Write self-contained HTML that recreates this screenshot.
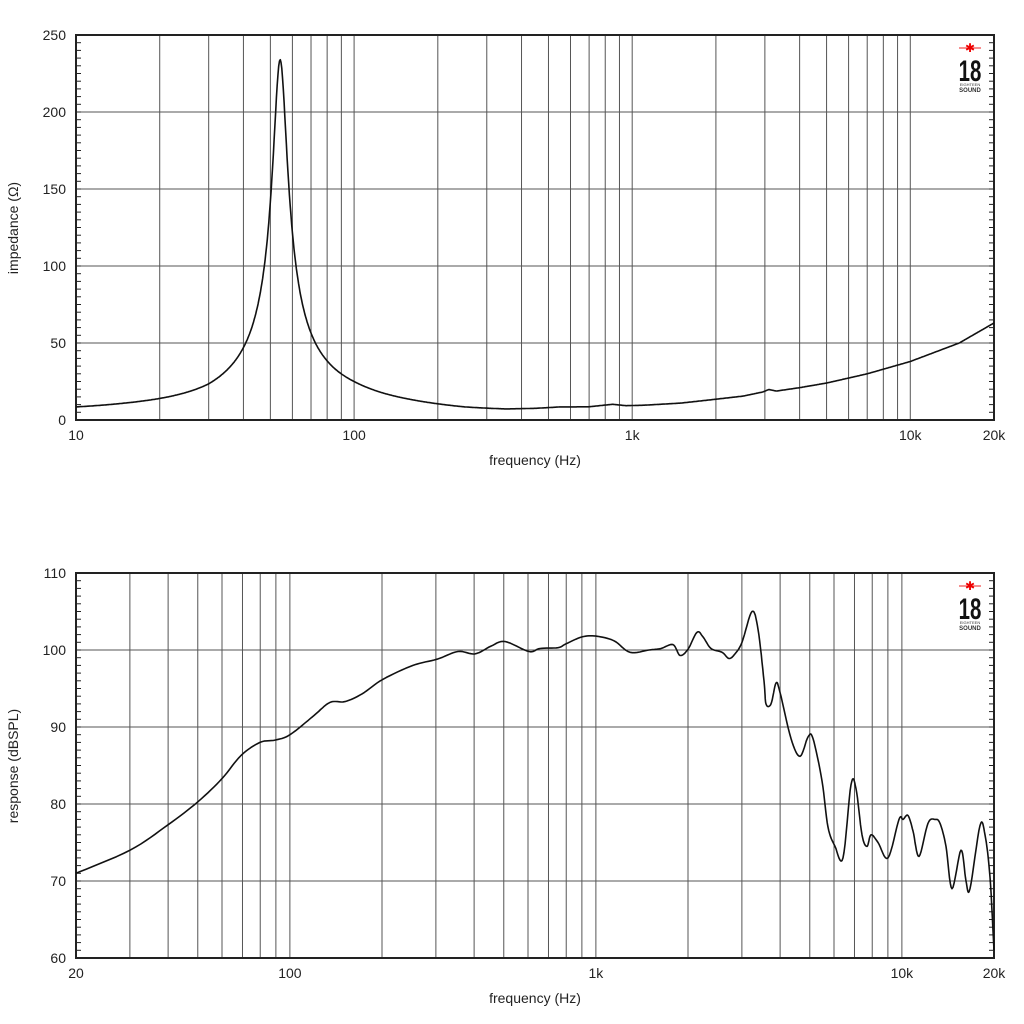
<!DOCTYPE html>
<html><head><meta charset="utf-8"><style>
html,body{margin:0;padding:0;background:#fff;}
svg{display:block;font-family:"Liberation Sans",sans-serif;}
</style></head><body>
<svg id="s" width="1024" height="1024" viewBox="0 0 1024 1024" xmlns="http://www.w3.org/2000/svg">
<rect width="1024" height="1024" fill="#fff"/>
<g id="g"></g>
<text x="535" y="465" font-size="14" text-anchor="middle" fill="#222">frequency (Hz)</text>
<text x="535" y="1003" font-size="14" text-anchor="middle" fill="#222">frequency (Hz)</text>
<text transform="translate(18,228) rotate(-90)" font-size="14" text-anchor="middle" fill="#222">impedance (Ω)</text>
<text transform="translate(18,766) rotate(-90)" font-size="14" text-anchor="middle" fill="#222">response (dBSPL)</text>
</svg>
<script>
var NS="http://www.w3.org/2000/svg",g=document.getElementById("g");
function el(t,a,txt){var e=document.createElementNS(NS,t);for(var k in a)e.setAttribute(k,a[k]);if(txt!==undefined)e.textContent=txt;g.appendChild(e);return e;}
function chart(o){
  var L=76,R=994,T=o.T,B=o.B;
  function X(f){return L+(R-L)*Math.log10(f/o.f0)/Math.log10(o.f1/o.f0);}
  function Y(v){return B-(B-T)*(v-o.y0)/(o.y1-o.y0);}
  for(var d=1;d<=10000;d*=10)for(var m=1;m<10;m++){var f=d*m;if(f<=o.f0||f>=o.f1)continue;var x=X(f);
    el("line",{x1:x,y1:T,x2:x,y2:B,stroke:"#555","stroke-width":1});}
  for(var v=o.y0+o.ys;v<o.y1;v+=o.ys){el("line",{x1:L,y1:Y(v),x2:R,y2:Y(v),stroke:"#555","stroke-width":1});}
  for(var v=o.y0;v<=o.y1;v+=o.mt){var y=Y(v);
    el("line",{x1:L,y1:y,x2:L+5,y2:y,stroke:"#222","stroke-width":1});
    el("line",{x1:R-5,y1:y,x2:R,y2:y,stroke:"#222","stroke-width":1});}
  el("rect",{x:L,y:T,width:R-L,height:B-T,fill:"none",stroke:"#222","stroke-width":2});
  for(var v=o.y0;v<=o.y1;v+=o.ys)el("text",{x:66,y:Y(v)+5,"font-size":14,"text-anchor":"end",fill:"#222"},String(v));
  o.xl.forEach(function(p){el("text",{x:X(p[0]),y:B+20,"font-size":14,"text-anchor":"middle",fill:"#222"},p[1]);});
  var lx=970,ly=T+13;
  el("line",{x1:lx-11,y1:ly,x2:lx+11,y2:ly,stroke:"#e22","stroke-width":1});
  el("text",{x:lx,y:ly+4,"font-size":12,"text-anchor":"middle",fill:"#e00"},"✱");
  el("text",{x:0,y:0,"font-size":30,"font-weight":"bold","text-anchor":"middle",fill:"#111",transform:"translate("+lx+","+(ly+33)+") scale(0.68,1)"},"18");
  el("text",{x:lx,y:ly+38,"font-size":4,"text-anchor":"middle",fill:"#333"},"EIGHTEEN");
  el("text",{x:lx,y:ly+44,"font-size":6,"font-weight":"bold","text-anchor":"middle",fill:"#333"},"SOUND");
  return {X:X,Y:Y};
}
function spline(P){var out=[];for(var i=0;i<P.length-1;i++){var p0=P[Math.max(0,i-1)],p1=P[i],p2=P[i+1],p3=P[Math.min(P.length-1,i+2)];
  for(var t=0;t<1;t+=0.125){var t2=t*t,t3=t2*t;
    var x=0.5*((2*p1[0])+(-p0[0]+p2[0])*t+(2*p0[0]-5*p1[0]+4*p2[0]-p3[0])*t2+(-p0[0]+3*p1[0]-3*p2[0]+p3[0])*t3);
    var y=0.5*((2*p1[1])+(-p0[1]+p2[1])*t+(2*p0[1]-5*p1[1]+4*p2[1]-p3[1])*t2+(-p0[1]+3*p1[1]-3*p2[1]+p3[1])*t3);
    out.push(x.toFixed(1)+","+y.toFixed(1));}}
  var l=P[P.length-1];out.push(l[0].toFixed(1)+","+l[1].toFixed(1));return out.join(" ");}
var c1=chart({T:35,B:420,f0:10,f1:20000,y0:0,y1:250,ys:50,mt:5,xl:[[10,"10"],[100,"100"],[1000,"1k"],[10000,"10k"],[20000,"20k"]]});
function Lz(f){var x=f/54.2-54.2/f;return 230/Math.sqrt(1+67.8*x*x);}
var ref=[[10,8.5],[15,11],[20,14],[25,18],[30,23.5],[54.2,234],[100,25],[130,17],[200,10.5],[250,8.5],[350,7.2],[450,7.6],[550,8.5],[700,8.6],[850,10.2],[950,9.3],[1100,9.6],[1500,11],[2000,13.5],[2500,15.5],[2950,18.2],[3100,19.8],[3300,18.8],[4000,21],[5000,24],[7000,30],[10000,38],[15000,50],[20000,63]];
var bg=ref.map(function(p){return [Math.log10(p[0]),p[1]-Lz(p[0])];});
function BG(f){var l=Math.log10(f);for(var i=0;i<bg.length-1;i++){if(l<=bg[i+1][0]){var t=(l-bg[i][0])/(bg[i+1][0]-bg[i][0]);return bg[i][1]+(bg[i+1][1]-bg[i][1])*t;}}return bg[bg.length-1][1];}
var pts=[];
for(var i=0;i<=1200;i++){var f=10*Math.pow(2000,i/1200);var z=BG(f)+Lz(f);
  pts.push(c1.X(f).toFixed(1)+","+c1.Y(z).toFixed(1));}
el("polyline",{points:pts.join(" "),fill:"none",stroke:"#111","stroke-width":1.6,"stroke-linejoin":"round"});
var c2=chart({T:573,B:958,f0:20,f1:20000,y0:60,y1:110,ys:10,mt:1,xl:[[20,"20"],[100,"100"],[1000,"1k"],[10000,"10k"],[20000,"20k"]]});
var r=[[76,71],[130,74],[168,77.3],[198,80.3],[222,83.3],[241,86.3],[260,88],[275,88.3],[290,89],[314,91.5],[330,93.2],[345,93.3],[362,94.3],[383,96.2],[413,98],[437,98.8],[458,99.8],[475,99.5],[491,100.5],[505,101.1],[529,99.8],[540,100.2],[558,100.3],[566,100.8],[582,101.7],[596,101.8],[614,101.2],[630,99.7],[649,100],[661,100.2],[673,100.7],[680,99.3],[688,100.1],[697,102.3],[703,101.7],[711,100.2],[722,99.7],[729,98.9],[735,99.5],[742,101],[752,105],[758,102.7],[764,96],[766,93],[771,93],[776,95.7],[780,94.5],[791,88.5],[800,86.2],[808,88.7],[813,88.5],[822,83],[828,77],[835,74.5],[843,73],[851,82.5],[856,82],[862,76],[867,74.5],[871,76],[878,75],[888,73],[899,78],[903,78],[908,78.5],[913,76.5],[919,73.2],[928,77.5],[935,78],[940,77.5],[946,74.5],[952,69],[961,74],[966,70],[970,69],[980,77.2],[985,76],[990,70.5],[994,61]];
el("polyline",{points:spline(r.map(function(p){return [p[0],c2.Y(p[1])];})),fill:"none",stroke:"#111","stroke-width":1.6,"stroke-linejoin":"round"});
</script>
</body></html>
